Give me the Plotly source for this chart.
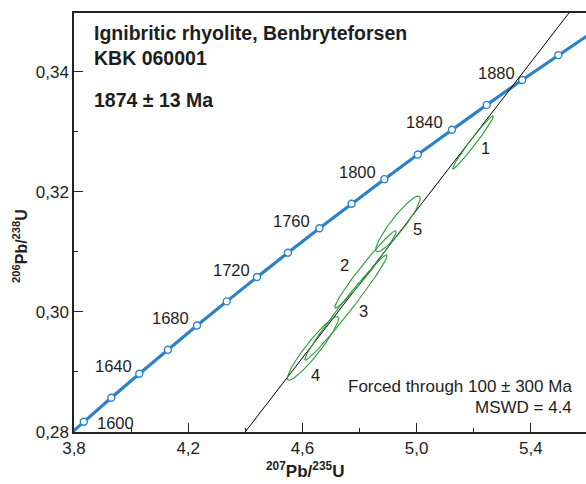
import numpy as np
import plotly.graph_objects as go

# Concordia curve points (ages in Ma)
conc_age = [1580, 1600, 1620, 1640, 1660, 1680, 1700, 1720, 1740, 1760, 1780,
            1800, 1820, 1840, 1860, 1880, 1900, 1920]
conc_x = [3.7401, 3.8344, 3.9306, 4.0287, 4.1287, 4.2307, 4.3348, 4.4409, 4.5491,
          4.6595, 4.7721, 4.8869, 5.0040, 5.1234, 5.2452, 5.3695, 5.4962, 5.6250]
conc_y = [0.27775, 0.28172, 0.28570, 0.28970, 0.29371, 0.29773, 0.30176, 0.30581,
          0.30987, 0.31394, 0.31802, 0.32212, 0.32623, 0.33035, 0.33449, 0.33863,
          0.34279, 0.34690]
marker_ages = [1600, 1620, 1640, 1660, 1680, 1700, 1720, 1740, 1760, 1780,
               1800, 1820, 1840, 1860, 1880, 1900]
label_ages = [1600, 1640, 1680, 1720, 1760, 1800, 1840, 1880]
label_x = [3.9436, 3.9366, 4.1395, 4.3531, 4.5632, 4.7943, 5.0289, 5.2810]
label_y = [0.2815, 0.2910, 0.2990, 0.3070, 0.31517, 0.3233, 0.33167, 0.33983]

# Discordia (forced through 100 Ma) end points
disc_x = [4.400, 5.570]
disc_y = [0.28004, 0.35206]

# Analyses: centre, half-extents, correlation
ell_names = ["1", "2", "3", "4", "5"]
ell_x = [5.197, 4.8207, 4.7524, 4.6368, 4.9345]
ell_y = [0.32825, 0.30708, 0.30075, 0.29392, 0.31467]
ell_sx = [0.0716, 0.1077, 0.1444, 0.0896, 0.0779]
ell_sy = [0.00443, 0.00644, 0.00877, 0.00530, 0.00465]
ell_rho = [0.9828, 0.978, 0.9855, 0.9383, 0.9184]
ell_label_x = [5.2426, 4.7489, 4.8154, 4.6473, 5.0045]
ell_label_y = [0.32733, 0.30783, 0.30017, 0.2895, 0.31383]

x_range = [3.8, 5.593]
y_range = [0.28, 0.3498]
x_major = [3.8, 4.2, 4.6, 5.0, 5.4]
y_major = [0.28, 0.30, 0.32, 0.34]

BLUE = "#2b82c9"
GREEN = "#2f9a3c"
TXT = "#1e1e1e"
FONT = "Liberation Sans, Arial, sans-serif"

fig = go.Figure()

# concordia line
fig.add_trace(go.Scatter(x=conc_x, y=conc_y, mode="lines",
                         line=dict(color=BLUE, width=3.2), hoverinfo="skip"))
mx = [conc_x[conc_age.index(a)] for a in marker_ages]
my = [conc_y[conc_age.index(a)] for a in marker_ages]
fig.add_trace(go.Scatter(x=mx, y=my, mode="markers",
                         marker=dict(size=7, color="white",
                                     line=dict(color=BLUE, width=1.4)),
                         hoverinfo="skip"))

# discordia
fig.add_trace(go.Scatter(x=disc_x, y=disc_y, mode="lines",
                         line=dict(color="black", width=1), hoverinfo="skip"))

# ellipses
t = np.linspace(0, 2 * np.pi, 200)
for cx, cy, sx, sy, r in zip(ell_x, ell_y, ell_sx, ell_sy, ell_rho):
    ex = cx + sx * np.cos(t)
    ey = cy + sy * (r * np.cos(t) + np.sqrt(1 - r * r) * np.sin(t))
    fig.add_trace(go.Scatter(x=ex, y=ey, mode="lines",
                             line=dict(color=GREEN, width=1.1), hoverinfo="skip"))

ann = []
for a, lx, ly in zip(label_ages, label_x, label_y):
    ann.append(dict(x=lx, y=ly, text=str(a), showarrow=False,
                    font=dict(size=16.5, color=TXT, family=FONT)))
for n, lx, ly in zip(ell_names, ell_label_x, ell_label_y):
    ann.append(dict(x=lx, y=ly, text=n, showarrow=False,
                    font=dict(size=16.5, color=TXT, family=FONT)))

ann += [
    dict(xref="paper", yref="paper", x=0.036, y=0.952, xanchor="left", yanchor="middle",
         text="<b>Ignibritic rhyolite, Benbryteforsen</b>", showarrow=False,
         font=dict(size=19.5, color=TXT, family=FONT)),
    dict(xref="paper", yref="paper", x=0.036, y=0.893, xanchor="left", yanchor="middle",
         text="<b>KBK 060001</b>", showarrow=False,
         font=dict(size=19.5, color=TXT, family=FONT)),
    dict(xref="paper", yref="paper", x=0.036, y=0.792, xanchor="left", yanchor="middle",
         text="<b>1874 ± 13 Ma</b>", showarrow=False,
         font=dict(size=19.5, color=TXT, family=FONT)),
    dict(xref="paper", yref="paper", x=0.977, y=0.1074, xanchor="right", yanchor="middle",
         text="Forced through 100 ± 300 Ma", showarrow=False,
         font=dict(size=17, color=TXT, family=FONT)),
    dict(xref="paper", yref="paper", x=0.977, y=0.0573, xanchor="right", yanchor="middle",
         text="MSWD = 4.4", showarrow=False,
         font=dict(size=17, color=TXT, family=FONT)),
    dict(xref="paper", yref="paper", x=0.451, y=-0.0907, xanchor="center", yanchor="middle",
         text="<b><sup>207</sup>Pb/<sup>235</sup>U</b>", showarrow=False,
         font=dict(size=17, color=TXT, family=FONT)),
    dict(xref="paper", yref="paper", x=-0.1055, y=0.444, xanchor="center", yanchor="middle",
         textangle=-90,
         text="<b><sup>206</sup>Pb/<sup>238</sup>U</b>", showarrow=False,
         font=dict(size=16, color=TXT, family=FONT)),
]

fig.update_layout(
    width=586, height=484,
    margin=dict(l=74, r=0, t=13, b=52),
    paper_bgcolor="white", plot_bgcolor="white",
    showlegend=False,
    separators=", ",
    annotations=ann,
    font=dict(family=FONT, size=14, color=TXT),
    xaxis=dict(range=x_range, tickvals=x_major, tickformat=".1f",
               ticks="inside", ticklen=9, tickwidth=1, tickcolor="#222",
               minor=dict(dtick=0.2, ticks="inside", ticklen=4, tickcolor="#222"),
               showgrid=False, zeroline=False,
               showline=True, linecolor="#222", linewidth=1.5, mirror=True,
               tickfont=dict(size=17, color=TXT, family=FONT)),
    yaxis=dict(range=y_range, tickvals=y_major, tickformat=".2f",
               ticks="inside", ticklen=9, tickwidth=1, tickcolor="#222",
               minor=dict(dtick=0.01, ticks="inside", ticklen=4, tickcolor="#222"),
               showgrid=False, zeroline=False,
               showline=True, linecolor="#222", linewidth=1.5, mirror=False,
               tickfont=dict(size=17, color=TXT, family=FONT)),
)

fig.write_html("out.html")
